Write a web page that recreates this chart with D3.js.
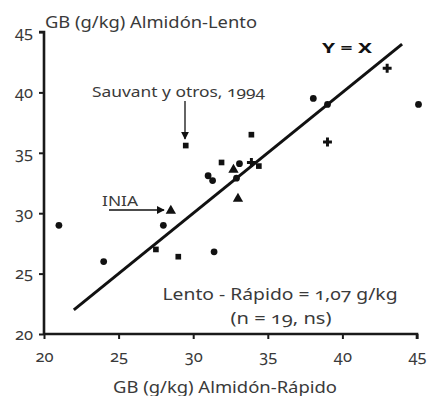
<!DOCTYPE html>
<html>
<head>
<meta charset="utf-8">
<script src="https://cdn.jsdelivr.net/npm/d3@7"></script>
<style>
  body { margin: 0; background: #fff; }
  svg text { font-family: "Noto Sans", sans-serif; fill: #3a3a3a; font-variant-numeric: oldstyle-nums; }
</style>
</head>
<body>
<svg id="chart" width="427" height="396"></svg>
<script>
// data (Rápido, Lento) in g/kg
const rapido = [21, 24, 27.5, 28, 28.5, 29, 29.5, 31.4, 31, 31.3, 31.9, 33.1, 32.7, 32.9, 33, 33.9, 34.4, 33.9, 38.05, 39, 39, 43, 45.1]
const lento  = [29, 26, 27, 29, 30.2, 26.4, 35.6, 26.8, 33.1, 32.7, 34.2, 34.1, 33.6, 32.9, 31.2, 34.2, 33.9, 36.5, 39.5, 39, 35.9, 42, 39]
const shapes = ['circle', 'circle', 'square', 'circle', 'triangle', 'square', 'square', 'circle', 'circle', 'circle', 'square', 'circle', 'triangle', 'circle', 'triangle', 'cross', 'square', 'square', 'circle', 'circle', 'cross', 'cross', 'circle']
const xTicks = [20, 25, 30, 35, 40, 45]
const yTicks = [20, 25, 30, 35, 40, 45]
const identity = [22, 44]

let svg = d3.select('#chart')
let x = d3.scaleLinear().domain([20, 45]).range([44, 417])
let y = d3.scaleLinear().domain([20, 45]).range([334, 32])

// axes
let xAxis = svg.append('g')
  .attr('transform', `translate(0,${y(20)})`)
  .call(d3.axisBottom(x).tickValues(xTicks).tickSize(5).tickPadding(11))
let yAxis = svg.append('g')
  .attr('transform', `translate(${x(20)},0)`)
  .call(d3.axisLeft(y).tickValues(yTicks).tickSize(5).tickPadding(6))

;[xAxis, yAxis].forEach(a => {
  a.select('.domain').attr('stroke', '#1a1a1a').attr('stroke-width', 2.6)
  a.selectAll('.tick line').attr('stroke', '#1a1a1a').attr('stroke-width', 2)
  a.selectAll('.tick text').attr('font-size', 16.5).style('fill', '#3a3a3a')
})
xAxis.select('.domain').attr('d', `M${x(20)},0H${x(45)}V5`)
yAxis.select('.domain').attr('d', `M0,${y(20)}V${y(45)}H-5`)

// Y = X line
svg.append('line')
  .attr('x1', x(identity[0])).attr('y1', y(identity[0]))
  .attr('x2', x(identity[1])).attr('y2', y(identity[1]))
  .attr('stroke', '#111').attr('stroke-width', 3)

// points
let symbolType = { circle: d3.symbolCircle, square: d3.symbolSquare, triangle: d3.symbolTriangle, cross: d3.symbolCross }
let symbolSize = { circle: 36, square: 32, triangle: 46, cross: 44 }
svg.append('g').selectAll('path')
  .data(rapido.map((r, i) => ({ r, l: lento[i], s: shapes[i] })))
  .enter().append('path')
  .attr('transform', d => `translate(${x(d.r)},${y(d.l)})`)
  .attr('d', d => d3.symbol().type(symbolType[d.s]).size(symbolSize[d.s])())
  .attr('fill', '#111')

// arrow marker
svg.append('defs').append('marker')
  .attr('id', 'arr').attr('viewBox', '0 0 10 10')
  .attr('refX', 9).attr('refY', 5)
  .attr('markerWidth', 6).attr('markerHeight', 6)
  .attr('orient', 'auto')
  .append('path').attr('d', 'M0,0L10,5L0,10z').attr('fill', '#111')

svg.append('line')
  .attr('x1', 185).attr('y1', 101).attr('x2', 185).attr('y2', 139)
  .attr('stroke', '#111').attr('stroke-width', 1.3).attr('marker-end', 'url(#arr)')
svg.append('line')
  .attr('x1', 109).attr('y1', 210).attr('x2', 164).attr('y2', 210)
  .attr('stroke', '#111').attr('stroke-width', 1.3).attr('marker-end', 'url(#arr)')

// texts (textLength to match the wider original face)
function label(tx, ty, size, str, len, anchor) {
  return svg.append('text')
    .attr('x', tx).attr('y', ty).attr('font-size', size)
    .attr('text-anchor', anchor || 'start')
    .attr('textLength', len).attr('lengthAdjust', 'spacingAndGlyphs')
    .text(str)
}
label(45, 28, 16, 'GB (g/kg) Almidón-Lento', 212)
label(225, 393, 16, 'GB (g/kg) Almidón-Rápido', 224, 'middle')
label(347, 53, 15, 'Y = X', 50, 'middle').attr('font-weight', 'bold').style('fill', '#111')
label(92, 97, 14, 'Sauvant y otros, 1994', 173)
label(102, 206, 14, 'INIA', 36)
label(280, 300, 16, 'Lento - Rápido = 1,07 g/kg', 235, 'middle')
label(281, 324, 16, '(n = 19, ns)', 101, 'middle')
</script>
</body>
</html>
